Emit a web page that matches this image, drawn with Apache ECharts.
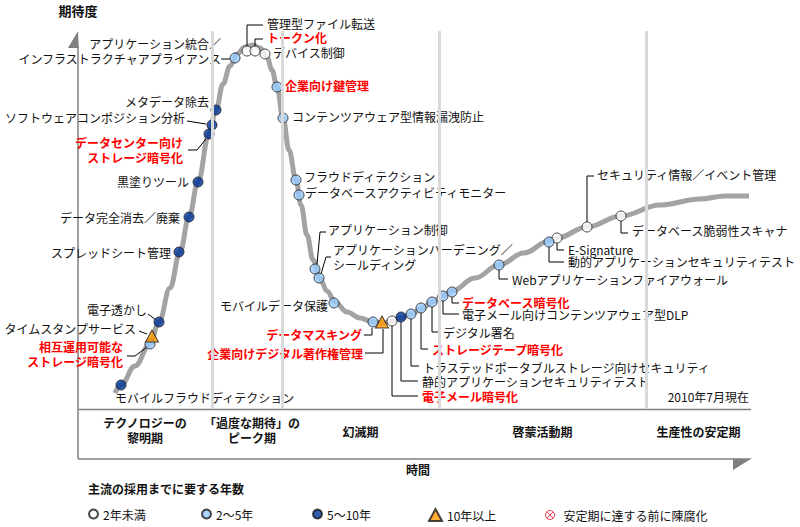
<!DOCTYPE html>
<html>
<head>
<meta charset="utf-8">
<script src="https://cdn.jsdelivr.net/npm/echarts@6/dist/echarts.min.js"></script>
<style>
html,body{margin:0;padding:0;background:#fff}
#main{width:800px;height:527px}
</style>
</head>
<body>
<div id="main"></div>
<script>
// ハイプ曲線（時間, 期待度）
const curveTime = [37,43,57,72,81,92,102,111,120,131,138,145,152,159,167,175,182,189,194,199,205,211,218,223,229,235,242,249,257,269,282,295,305,314,323,333,343,354,365,374,397,421,446,471,479,509,543,582,622,647,671];
const curveExpect = [16,24,43,65,87,121,157,192,227,275,299,325,343,355,362,364,361,352,339,322,291,259,229,204,174,149,130,118,107,97,91,87,86,88,91,95,100,107,113,118,131,144,156,168,171,182,193,204,210,213,213];

// 技術
const techNames = [
  'モバイルフラウドディテクション',
  '相互運用可能な\nストレージ暗号化',
  'タイムスタンプサービス',
  '電子透かし',
  'スプレッドシート管理',
  'データ完全消去／廃棄',
  '黒塗りツール',
  'データセンター向け\nストレージ暗号化',
  'ソフトウェアコンポジション分析',
  'メタデータ除去',
  'アプリケーション統合／\nインフラストラクチャアプライアンス',
  '管理型ファイル転送',
  'トークン化',
  'デバイス制御',
  '企業向け鍵管理',
  'コンテンツアウェア型情報漏洩防止',
  'フラウドディテクション',
  'データベースアクティビティモニター',
  'アプリケーション制御',
  'アプリケーションハーデニング／\nシールディング',
  'モバイルデータ保護',
  'データマスキング',
  '企業向けデジタル著作権管理',
  '電子メール暗号化',
  '静的アプリケーションセキュリティテスト',
  'トラステッドポータブルストレージ向けセキュリティ',
  'ストレージテープ暗号化',
  'デジタル署名',
  '電子メール向けコンテンツアウェア型DLP',
  'データベース暗号化',
  'Webアプリケーションファイアウォール',
  '動的アプリケーションセキュリティテスト',
  'E-Signature',
  'セキュリティ情報／イベント管理',
  'データベース脆弱性スキャナ'
];
const techTime = [43,72,74,81,101,111,120,131,134,138,157,169,177,187,199,205,218,221,237,241,256,295,304,314,323,333,343,354,365,374,421,471,479,509,543];
const techExpect = [24,65,73,87,157,192,227,275,284,299,351,358,358,355,322,291,229,214,140,131,106,87,87,88,92,95,101,107,113,117,144,167,171,182,193];
// 0: 2年未満, 1: 2～5年, 2: 5～10年, 3: 10年以上
const techStage = [2,1,3,2,2,2,2,2,2,2,1,0,0,0,1,1,1,1,1,1,1,1,3,0,2,1,1,1,1,1,1,1,0,0,0];
const techHighlight = [0,1,0,0,0,0,0,1,0,0,0,0,1,0,1,0,0,0,0,0,0,1,1,1,0,0,1,0,0,1,0,0,0,0,0];

const stageNames = ['2年未満', '2～5年', '5～10年', '10年以上'];
const obsoleteName = '安定期に達する前に陳腐化';
const phaseNames = ['テクノロジーの\n黎明期', '「過度な期待」の\nピーク期', '幻滅期', '啓蒙活動期', '生産性の安定期'];
const phaseEdges = [0, 134, 204, 361, 568, 673];

// ラベル配置: [dx, dy, align, 引き出し線]
const labelLayout = [
  [-6, 12, 'left', null],
  [-27, 10, 'right', [[-23,12],[-15,12],[-3,3]]],
  [-16, -8, 'right', [[-13,-5],[-5,-2]]],
  [-12, -13, 'right', [[-11,-8],[-3,-2]]],
  [-8, 0, 'right', null],
  [-9, 0, 'right', null],
  [-9, -1, 'right', null],
  [-26, 16, 'right', [[-21,16],[-12,16],[-3,5]]],
  [-27, -8, 'right', [[-25,-4],[-6,-1]]],
  [-7, -9, 'right', null],
  [-14, -7, 'right', [[-14,1],[-5,1]]],
  [20, -28, 'left', [[0,-5],[0,-26],[16,-26]]],
  [12, -14, 'left', [[0,-5],[0,-12],[8,-12]]],
  [8, -2, 'left', null],
  [8, -2, 'left', null],
  [9, -2, 'left', null],
  [8, -4, 'left', null],
  [6, -3, 'left', null],
  [13, -40, 'left', [[2,-5],[5,-37],[11,-37]]],
  [14, -21, 'left', [[2,-4],[7,-21],[12,-21]]],
  [-6, 2, 'right', null],
  [-11, 12, 'right', [[-9,13],[-1,13],[-1,6]]],
  [-19, 31, 'right', [[-17,31],[1,31],[1,7]]],
  [30, 75, 'left', [[0,5],[0,75],[26,75]]],
  [21, 64, 'left', [[0,5],[0,64],[17,64]]],
  [12, 53, 'left', [[0,5],[0,52],[8,52]]],
  [11, 41, 'left', [[0,5],[0,41],[7,41]]],
  [11, 30, 'left', [[0,5],[0,30],[8,30]]],
  [19, 18, 'left', [[0,5],[0,18],[16,18]]],
  [10, 10, 'left', [[0,5],[0,11],[7,11]]],
  [13, 14, 'left', [[0,5],[0,14],[9,14]]],
  [19, 19, 'left', [[0,5],[0,20],[15,20]]],
  [11, 11, 'left', [[0,5],[0,12],[7,12]]],
  [10, -53, 'left', [[0,-5],[0,-51],[7,-51]]],
  [11, 14, 'left', [[0,5],[0,17],[7,17]]]
];

const FONT = 'Noto Sans CJK JP';
const stageColors = ['#ffffff', '#99ccff', '#003399', '#ff9900'];
const obsoleteIcon = 'path://M10,0A10,10,0,1,1,10,20A10,10,0,1,1,10,0ZM3,3L17,17M17,3L3,17';

function renderLabel(params, api) {
  const i = api.value(2);
  const p = api.coord([api.value(0), api.value(1)]);
  const L = labelLayout[i];
  const kids = [];
  if (L[3]) {
    kids.push({
      type: 'polyline',
      shape: { points: L[3].map(q => [p[0] + q[0], p[1] + q[1]]) },
      style: { stroke: '#000', lineWidth: 1, fill: null }
    });
  }
  kids.push({
    type: 'text',
    x: p[0] + L[0],
    y: p[1] + L[1],
    style: {
      text: techNames[i],
      fill: techHighlight[i] ? '#ff0000' : '#111',
      fontSize: 12,
      fontWeight: techHighlight[i] ? 'bold' : 'normal',
      fontFamily: FONT,
      align: L[2], textAlign: L[2],
      verticalAlign: 'middle', textVerticalAlign: 'middle',
      lineHeight: 15
    }
  });
  return { type: 'group', children: kids };
}

const stageSeries = stageNames.map((name, k) => ({
  type: 'scatter',
  name: name,
  z: 4,
  symbol: k === 3 ? 'triangle' : 'circle',
  symbolSize: k === 3 ? [13, 12] : 10,
  itemStyle: { color: stageColors[k], borderColor: '#1a1a1a', borderWidth: 1 },
  data: techTime.map((t, i) => [t, techExpect[i], i]).filter((d, i) => techStage[i] === k)
}));

const legendLeft = [88, 201, 312, 428, 543];
const legendNames = stageNames.concat([obsoleteName]);

const chart = echarts.init(document.getElementById('main'), null, { renderer: 'svg' });
chart.setOption({
  animation: false,
  textStyle: { fontFamily: FONT },
  grid: { left: 78, top: 31, width: 673, height: 378 },
  xAxis: { type: 'value', min: 0, max: 673, show: false },
  yAxis: { type: 'value', min: 0, max: 378, show: false },
  legend: legendNames.map((name, k) => ({
    data: [k === 4 ? { name: name, icon: obsoleteIcon, itemStyle: { color: 'none', borderColor: '#e8192c', borderWidth: 1 } } : name],
    left: legendLeft[k],
    top: 508,
    padding: 0,
    selectedMode: false,
    itemWidth: k === 3 ? 13 : 9,
    itemHeight: k === 3 ? 12 : 9,
    textStyle: { fontSize: 12, color: '#111', fontFamily: FONT, padding: k === 4 ? [0, 0, 0, 4] : 0 }
  })),
  graphic: [
    { type: 'line', shape: { x1: 78, y1: 46, x2: 78, y2: 459 }, style: { stroke: '#808080', lineWidth: 1.5 } },
    { type: 'polygon', shape: { points: [[78, 31], [68, 48], [78.8, 48]] }, style: { fill: '#808080' } },
    { type: 'line', shape: { x1: 78, y1: 409.5, x2: 751, y2: 409.5 }, style: { stroke: '#808080', lineWidth: 1.5 } },
    { type: 'line', shape: { x1: 78, y1: 459, x2: 734, y2: 459 }, style: { stroke: '#808080', lineWidth: 1.5 } },
    { type: 'polygon', shape: { points: [[733, 458.2], [752, 458.2], [733, 470]] }, style: { fill: '#808080' } },
    { type: 'text', x: 78, y: 10, style: { text: '期待度', fontSize: 13, fontWeight: 'bold', fontFamily: FONT, fill: '#111', align: 'center', textAlign: 'center', verticalAlign: 'middle', textVerticalAlign: 'middle' } },
    { type: 'text', x: 418, y: 469, style: { text: '時間', fontSize: 12, fontWeight: 'bold', fontFamily: FONT, fill: '#111', align: 'center', textAlign: 'center', verticalAlign: 'middle', textVerticalAlign: 'middle' } },
    { type: 'text', x: 749, y: 396, style: { text: '2010年7月現在', fontSize: 12, fontFamily: FONT, fill: '#111', align: 'right', textAlign: 'right', verticalAlign: 'middle', textVerticalAlign: 'middle' } },
    { type: 'text', x: 88, y: 488, style: { text: '主流の採用までに要する年数', fontSize: 12, fontWeight: 'bold', fontFamily: FONT, fill: '#111', align: 'left', textAlign: 'left', verticalAlign: 'middle', textVerticalAlign: 'middle' } }
  ],
  series: [
    {
      type: 'line',
      name: 'ハイプ曲線',
      z: 2,
      silent: true,
      smooth: 0.4,
      smoothMonotone: 'x',
      showSymbol: false,
      lineStyle: { color: '#a3a3a3', width: 5 },
      data: curveTime.map((t, i) => [t, curveExpect[i]]),
      markLine: {
        silent: true,
        symbol: ['none', 'none'],
        label: { show: false },
        lineStyle: { color: '#d9d9d9', width: 3, type: 'solid' },
        data: phaseEdges.slice(1, 5).map(x => ({ xAxis: x }))
      },
      markArea: {
        silent: true,
        itemStyle: { color: 'rgba(0,0,0,0)' },
        label: { position: 'bottom', fontSize: 12, fontWeight: 'bold', color: '#111', fontFamily: FONT, lineHeight: 15 },
        data: phaseNames.map((name, k) => [
          { xAxis: phaseEdges[k], name: name, label: { distance: name.indexOf('\n') >= 0 ? 6 : 15, offset: k === 1 ? [5, 0] : [0, 0] } },
          { xAxis: phaseEdges[k + 1] }
        ])
      }
    },
    {
      type: 'custom',
      name: 'ラベル',
      z: 3,
      silent: true,
      renderItem: renderLabel,
      encode: { x: 0, y: 1 },
      data: techTime.map((t, i) => [t, techExpect[i], i])
    }
  ].concat(stageSeries).concat([
    { type: 'scatter', name: obsoleteName, data: [], itemStyle: { color: 'none', borderColor: '#e8192c', borderWidth: 1 } }
  ])
});
</script>
</body>
</html>
